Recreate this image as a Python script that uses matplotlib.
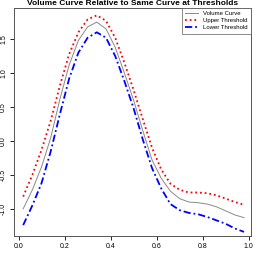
import matplotlib
matplotlib.use("Agg")
import matplotlib.pyplot as plt

x = [0.02, 0.06, 0.10, 0.14, 0.18, 0.22, 0.26, 0.30, 0.34, 0.38, 0.42, 0.46, 0.50,
     0.54, 0.58, 0.62, 0.66, 0.70, 0.74, 0.78, 0.82, 0.86, 0.90, 0.94, 0.98]
volume = [-1.00, -0.72, -0.38, 0.05, 0.62, 1.12, 1.48, 1.68, 1.75, 1.65, 1.38, 1.00, 0.60,
          0.15, -0.28, -0.55, -0.74, -0.85, -0.90, -0.91, -0.93, -0.97, -1.03, -1.09, -1.13]
upper = [-0.82, -0.50, -0.13, 0.30, 0.82, 1.28, 1.60, 1.79, 1.85, 1.77, 1.52, 1.15, 0.75,
         0.32, -0.10, -0.42, -0.63, -0.72, -0.76, -0.76, -0.77, -0.80, -0.85, -0.90, -0.94]
lower = [-1.24, -0.95, -0.62, -0.15, 0.40, 0.92, 1.30, 1.52, 1.60, 1.52, 1.25, 0.88, 0.48,
         0.02, -0.40, -0.70, -0.93, -1.02, -1.06, -1.08, -1.12, -1.17, -1.22, -1.29, -1.34]

xticks = [0.0, 0.2, 0.4, 0.6, 0.8, 1.0]
yticks = [-1.0, -0.5, 0.0, 0.5, 1.0, 1.5]

plt.rcParams['font.family'] = ['Liberation Sans', 'DejaVu Sans']

fig = plt.figure(figsize=(2.54, 2.54), dpi=100)
ax = fig.add_axes([0.055, 0.071, 0.933, 0.898])

ax.plot(x, volume, color='#8a8a8a', lw=0.7, label='Volume Curve')
ax.plot(x, upper, color='red', lw=1.3, ls=(0, (1, 1.6)), label='Upper Threshold')
ax.plot(x, lower, color='blue', lw=1.3, ls=(0, (4, 1.6, 1, 1.6)), label='Lower Threshold')

ax.set_xlim(-0.02, 1.01)
ax.set_ylim(-1.40, 1.96)
ax.set_xticks(xticks)
ax.set_yticks(yticks)
ax.set_xticklabels(['%.1f' % v for v in xticks], fontsize=5)
ax.set_yticklabels(['%.1f' % v for v in yticks], fontsize=5, rotation=90, va='center')
ax.tick_params(direction='out', length=3, width=0.6, pad=2)
for s in ax.spines.values():
    s.set_linewidth(0.7)
    s.set_color('#555555')

ax.set_title('Volume Curve Relative to Same Curve at Thresholds',
             fontsize=6, fontweight='bold', pad=2)

leg = ax.legend(loc='upper right', fontsize=4.3, frameon=True, fancybox=False,
                borderaxespad=0, handlelength=2.2, handletextpad=0.8,
                borderpad=0.55, labelspacing=0.3)
leg.get_frame().set_edgecolor('#555555')
leg.get_frame().set_linewidth(0.6)

fig.savefig('out.png', dpi=100)
